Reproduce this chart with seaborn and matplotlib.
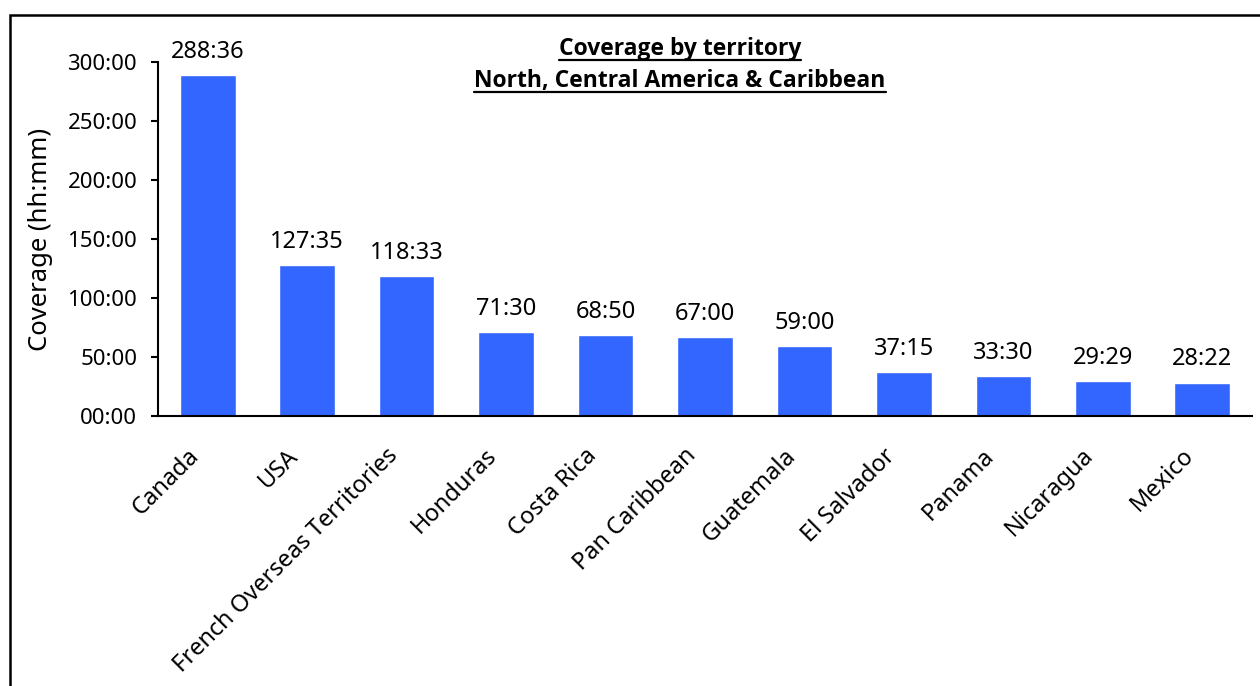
import pandas as pd
import seaborn as sns
import matplotlib.pyplot as plt
from matplotlib.ticker import FuncFormatter, FixedLocator
from matplotlib.patches import Rectangle
from matplotlib.lines import Line2D
from matplotlib.transforms import ScaledTranslation

territories = ["Canada", "USA", "French Overseas Territories", "Honduras", "Costa Rica",
               "Pan Caribbean", "Guatemala", "El Salvador", "Panama", "Nicaragua", "Mexico"]
coverage = ["288:36", "127:35", "118:33", "71:30", "68:50", "67:00",
            "59:00", "37:15", "33:30", "29:29", "28:22"]

# hh:mm -> hours
hours = [int(c.split(":")[0]) + int(c.split(":")[1]) / 60 for c in coverage]
df = pd.DataFrame({"territory": territories, "hours": hours})

sns.set_style("white")
plt.rcParams["font.family"] = ["Noto Sans", "DejaVu Sans"]
for k in ["text.color", "axes.labelcolor", "xtick.color", "ytick.color"]:
    plt.rcParams[k] = "black"

fig = plt.figure(figsize=(12.6, 6.86), dpi=100)
ax = fig.add_axes([158 / 1260, 1 - 416 / 686, (1252 - 158) / 1260, (416 - 62) / 686])

sns.barplot(data=df, x="territory", y="hours", color="#3366FF", width=0.56,
            saturation=1, ax=ax)
ax.bar_label(ax.containers[0], labels=coverage, padding=8, fontsize=17)

ax.set_ylim(0, 300)
ax.set_xlim(-0.5, len(territories) - 0.5)
ax.set_yticks(range(0, 301, 50))
ax.yaxis.set_major_formatter(FuncFormatter(lambda v, p: "%02d:00" % v))
ax.set_xticks(range(len(territories)))
ax.set_xticklabels(territories, rotation=45, ha="right", rotation_mode="anchor")
ax.xaxis.set_minor_locator(FixedLocator([i - 0.5 for i in range(len(territories) + 1)]))
ax.tick_params(axis="x", which="major", length=0, pad=20, labelsize=17)
ax.tick_params(axis="x", which="minor", length=5, width=1.5, direction="out", color="black")
ax.tick_params(axis="y", length=5, width=1.5, direction="out", color="black", labelsize=16,
               left=True, pad=10)
shift = ScaledTranslation(-21 / 100, 0, fig.dpi_scale_trans)
for lab in ax.get_xticklabels():
    lab.set_transform(lab.get_transform() + shift)

ax.set_xlabel("")
ax.set_ylabel("Coverage (hh:mm)", fontsize=18.5)
ax.yaxis.set_label_coords(-(158 - 53) / 1094, 0.5)
for s in ["top", "right"]:
    ax.spines[s].set_visible(False)
for s in ["left", "bottom"]:
    ax.spines[s].set_color("black")
    ax.spines[s].set_linewidth(1.5)

# title with underline
t1 = fig.text(680 / 1260, 1 - 49 / 686, "Coverage by territory", ha="center", va="center",
              fontsize=16.5, fontweight="bold", family=["Open Sans", "DejaVu Sans"])
t2 = fig.text(680 / 1260, 1 - 81 / 686, "North, Central America & Caribbean", ha="center",
              va="center", fontsize=16.5, fontweight="bold", family=["Open Sans", "DejaVu Sans"])
fig.canvas.draw()
r = fig.canvas.get_renderer()
for t in (t1, t2):
    bb = t.get_window_extent(r).transformed(fig.transFigure.inverted())
    fig.add_artist(Line2D([bb.x0, bb.x1], [bb.y0 + 0.002, bb.y0 + 0.002], color="black",
                          lw=1.6, transform=fig.transFigure))

# outer frame
fig.add_artist(Rectangle((10 / 1260, -0.05), 1.1, 1 - 15 / 686 + 0.05, fill=False,
                         edgecolor="black", lw=1.8, transform=fig.transFigure))

fig.savefig("out.png", dpi=100)
